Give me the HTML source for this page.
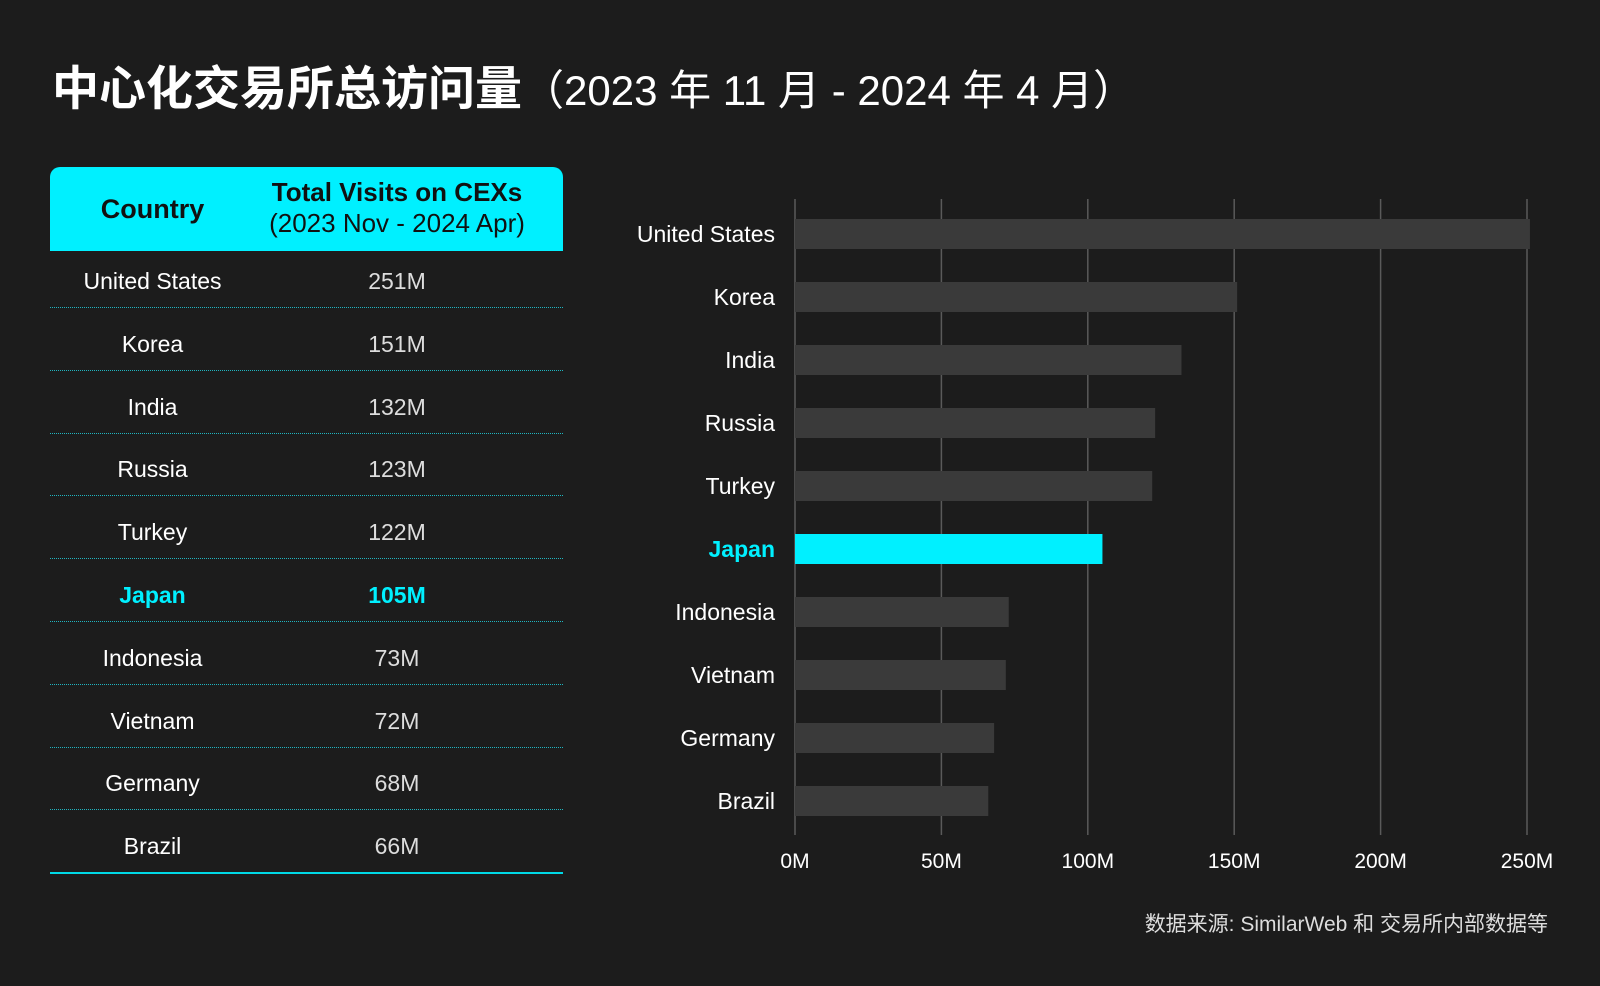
<!DOCTYPE html>
<html><head><meta charset="utf-8">
<style>
body{margin:0;background:#1c1c1c;width:1600px;height:986px;overflow:hidden;font-family:"Liberation Sans","Noto Sans CJK SC",sans-serif;color:#fff;position:relative}
.title{position:absolute;left:52px;top:50px;font-size:47px;font-weight:bold;white-space:nowrap;letter-spacing:0px}
.title span{font-weight:normal;font-size:42px}
.hdr{position:absolute;left:50px;top:167px;width:513px;height:84px;background:#00f0ff;border-radius:10px 10px 0 0;color:#111}
.hdr .c1{position:absolute;left:0;width:205px;top:0;height:84px;line-height:84px;text-align:center;font-weight:bold;font-size:27px}
.hdr .c2{position:absolute;left:205px;width:284px;top:10px;text-align:center;font-size:26px;line-height:31px;white-space:nowrap}
.row{position:absolute;left:50px;width:513px;height:62px;border-bottom:1px dotted #1fb5c0;font-size:23px}
.row div{position:absolute;top:6px;line-height:60px;text-align:center}
.row .a{left:0;width:205px}.row .b{left:205px;width:284px;color:#ddd}
.row.last{border-bottom:2px solid #00d8e6}
.hl{color:#00f0ff!important;font-weight:bold}
.src{position:absolute;right:52px;top:908px;font-size:21px;color:#ddd}
</style></head><body>
<div class="title">中心化交易所总访问量<span>（2023 年 11 月 - 2024 年 4 月）</span></div>
<div class="hdr"><div class="c1">Country</div><div class="c2"><b>Total Visits on CEXs</b><br>(2023 Nov - 2024 Apr)</div></div>
<div id="table"></div>
<svg id="chart" width="1600" height="986" style="position:absolute;left:0;top:0"></svg>
<div class="src">数据来源: SimilarWeb 和 交易所内部数据等</div>
<script>
const categories=["United States","Korea","India","Russia","Turkey","Japan","Indonesia","Vietnam","Germany","Brazil"];
const values=[251,151,132,123,122,105,73,72,68,66];
const labels=["251M","151M","132M","123M","122M","105M","73M","72M","68M","66M"];
const ticks=[0,50,100,150,200,250];
const tickLabels=["0M","50M","100M","150M","200M","250M"];
const highlight="Japan";
const X0=795,X1=1527,VMAX=250;
const x=v=>X0+(X1-X0)*v/VMAX;
const y=i=>219+i*63;
const NS="http://www.w3.org/2000/svg";
const svg=document.getElementById('chart');
const tbl=document.getElementById('table');
ticks.forEach((t,i)=>{
 const l=document.createElementNS(NS,'line');
 
 
 l.setAttribute('x1',x(t));l.setAttribute('x2',x(t));l.setAttribute('y1',199);l.setAttribute('y2',835);
 l.setAttribute('stroke','#5a5a5a');l.setAttribute('stroke-width','1.5');svg.appendChild(l);
 const tx=document.createElementNS(NS,'text');
 
 
 tx.setAttribute('x',x(t));tx.setAttribute('y',868);tx.setAttribute('text-anchor','middle');
 tx.setAttribute('fill','#fff');tx.setAttribute('font-size','21');tx.textContent=tickLabels[i];svg.appendChild(tx);
});
categories.forEach((c,i)=>{
 const hl=c===highlight;
 const r=document.createElementNS(NS,'rect');
 
 
 r.setAttribute('x',X0);r.setAttribute('y',y(i));r.setAttribute('width',x(values[i])-X0);r.setAttribute('height',30);
 r.setAttribute('fill',hl?'#00f0ff':'#3a3a3a');svg.appendChild(r);
 const t=document.createElementNS(NS,'text');
 
 
 t.setAttribute('x',775);t.setAttribute('y',y(i)+23);t.setAttribute('text-anchor','end');
 t.setAttribute('fill',hl?'#00f0ff':'#fff');t.setAttribute('font-size','23');
 if(hl)t.setAttribute('font-weight','bold');t.textContent=c;svg.appendChild(t);
 const row=document.createElement('div');
 
 
 row.className='row'+(i===categories.length-1?' last':'');
 row.style.top=(245+i*62.8)+'px';
 row.innerHTML='<div class="a'+(hl?' hl':'')+'">'+c+'</div><div class="b'+(hl?' hl':'')+'">'+labels[i]+'</div>';
 tbl.appendChild(row);
});
</script>
</body></html>
